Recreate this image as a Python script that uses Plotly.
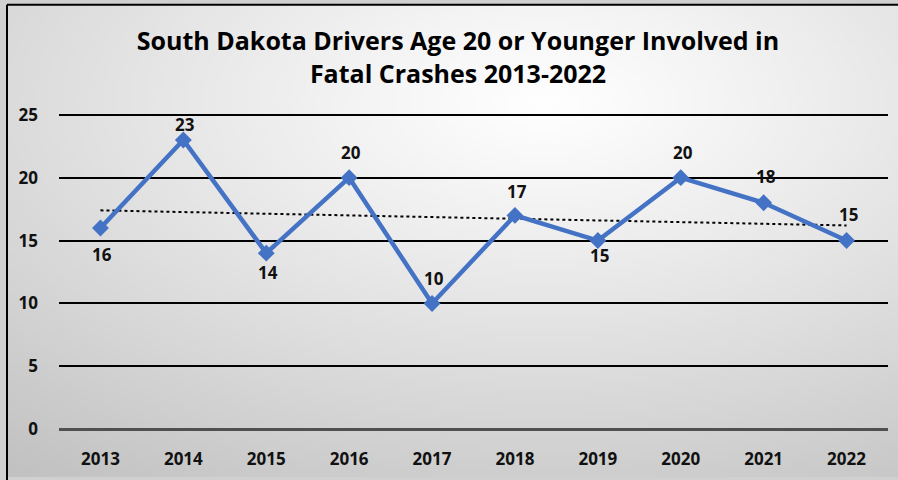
import base64, struct, zlib
import numpy as np
import plotly.graph_objects as go

years = ["2013", "2014", "2015", "2016", "2017", "2018", "2019", "2020", "2021", "2022"]
drivers = [16, 23, 14, 20, 10, 17, 15, 20, 18, 15]
y_ticks = [0, 5, 10, 15, 20, 25]
# data-label vertical offsets in px (styling, mirrors the reference label placement)
label_shift = [-27, 15, -19, 25, 25, 24, -15, 25, 26, 26]

W, H = 898, 480
L, R = 59, 10
ymin, ymax = -0.3, 25.3
ppu = (432 - 115) / 25.0
T = 115 - (ymax - 25) * ppu
B = (H - 432) - (0 - ymin) * ppu
pw, ph = W - L - R, H - T - B

def px_to_paper_x(px):
    return (px - L) / pw

def px_to_paper_y(py):
    return (H - B - py) / ph

# gradient background image (radial, white centre to grey edges)
gw, gh = 180, 96
yy, xx = np.mgrid[0:gh, 0:gw]
cx, cy = 0.6 * gw, 0.2 * gh
d = np.sqrt(((xx - cx) / gw) ** 2 + ((yy - cy) / gh) ** 2)
d = d / d.max()
val = (255 - 62 * d ** 1.1).clip(0, 255).astype(np.uint8)
raw = b"".join(b"\x00" + bytes(np.repeat(val[r], 3)) for r in range(gh))
def chunk(tag, data):
    c = struct.pack(">I", len(data)) + tag + data
    return c + struct.pack(">I", zlib.crc32(tag + data) & 0xffffffff)
png = b"\x89PNG\r\n\x1a\n" + chunk(b"IHDR", struct.pack(">IIBBBBB", gw, gh, 8, 2, 0, 0, 0)) \
      + chunk(b"IDAT", zlib.compress(raw, 9)) + chunk(b"IEND", b"")
img_src = "data:image/png;base64," + base64.b64encode(png).decode()

xi = np.arange(len(years))
slope, intercept = np.polyfit(xi, drivers, 1)
trend = slope * xi + intercept

fig = go.Figure()
fig.add_trace(go.Scatter(
    x=years, y=trend, mode="lines",
    line=dict(color="black", width=2, dash="dot"),
    hoverinfo="skip", showlegend=False))
fig.add_trace(go.Scatter(
    x=years, y=drivers, mode="lines+markers",
    line=dict(color="#4472C4", width=4.5),
    marker=dict(symbol="diamond", size=13, color="#4472C4"),
    showlegend=False))

annotations = []
for i, (v, s) in enumerate(zip(drivers, label_shift)):
    annotations.append(dict(
        x=i, y=v, xref="x", yref="y", text="<b>%d</b>" % v, showarrow=False,
        yshift=s, xshift=2, xanchor="center", yanchor="middle",
        font=dict(family="Open Sans", size=17, color="#111111")))

fig.update_layout(
    width=W, height=H,
    margin=dict(l=L, r=R, t=T, b=B, pad=0),
    paper_bgcolor="#d0d0d0",
    plot_bgcolor="rgba(0,0,0,0)",
    title=dict(
        text="<b>South Dakota Drivers Age 20 or Younger Involved in<br>Fatal Crashes 2013-2022</b>",
        font=dict(family="Open Sans", size=25, color="#000000"),
        x=458 / W, xanchor="center", xref="container",
        y=1 - 50 / H, yanchor="middle", yref="container"),
    xaxis=dict(
        type="category", range=[-0.5, 9.5], showgrid=False, zeroline=False,
        showline=False, ticks="", ticklabelstandoff=14,
        tickfont=dict(family="Open Sans", size=17, color="#111111", weight="bold")),
    yaxis=dict(
        range=[ymin, ymax], tickvals=y_ticks, showgrid=True, gridcolor="black",
        gridwidth=1.5, zeroline=True, zerolinecolor="#505050", zerolinewidth=3,
        showline=False, ticks="", ticklabelstandoff=20,
        tickfont=dict(family="Open Sans", size=17, color="#111111", weight="bold")),
    annotations=annotations,
    images=[dict(source=img_src, xref="paper", yref="paper",
                 x=px_to_paper_x(7), y=px_to_paper_y(4),
                 sizex=(W - 7) / pw, sizey=(H - 4) / ph,
                 xanchor="left", yanchor="top", sizing="stretch", layer="below")],
    shapes=[
        dict(type="line", xref="paper", yref="paper",
             x0=px_to_paper_x(7), x1=px_to_paper_x(W + 5),
             y0=px_to_paper_y(4), y1=px_to_paper_y(4),
             line=dict(color="black", width=2)),
        dict(type="line", xref="paper", yref="paper",
             x0=px_to_paper_x(7), x1=px_to_paper_x(7),
             y0=px_to_paper_y(4), y1=px_to_paper_y(H + 5),
             line=dict(color="black", width=2)),
    ],
)
fig.write_html("out.html", config={"displayModeBar": False},
               post_script="document.body.style.margin='0';")
